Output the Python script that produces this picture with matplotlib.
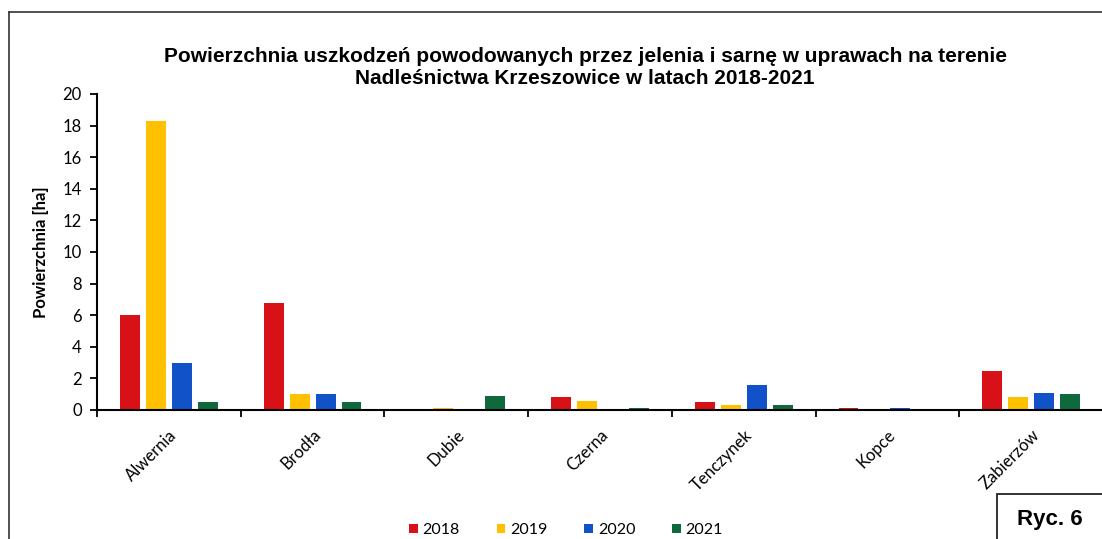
import matplotlib
matplotlib.use("Agg")
import matplotlib.pyplot as plt
import numpy as np
from matplotlib.patches import Rectangle, Patch
from matplotlib.lines import Line2D

categories = ["Alwernia", "Brodła", "Dubie", "Czerna", "Tenczynek", "Kopce", "Zabierzów"]
years = ["2018", "2019", "2020", "2021"]
v2018 = [6.0, 6.8, 0.0, 0.8, 0.5, 0.1, 2.5]
v2019 = [18.3, 1.0, 0.1, 0.6, 0.3, 0.0, 0.8]
v2020 = [3.0, 1.0, 0.0, 0.05, 1.6, 0.1, 1.1]
v2021 = [0.5, 0.5, 0.9, 0.1, 0.3, 0.0, 1.0]
series = [v2018, v2019, v2020, v2021]
colors = ["#d81018", "#ffc000", "#1252c8", "#0e6a3c"]
yticks = list(range(0, 21, 2))

W, H = 1102, 539
fig = plt.figure(figsize=(W / 100, H / 100), dpi=100)
fig.patch.set_facecolor("white")

ax = fig.add_axes([97 / W, (H - 410) / H, 1006 / W, 316 / H])
x = np.arange(len(categories))
step = 26 / 144
width = 20 / 144
for i, (vals, c) in enumerate(zip(series, colors)):
    ax.bar(x + (i - 1.5) * step, vals, width=width, color=c, label=years[i], zorder=2)

ax.set_xlim(-0.5, len(categories) - 0.5)
ax.set_ylim(0, 20)
ax.set_yticks(yticks)
ax.set_yticklabels([str(t) for t in yticks], fontsize=12, family=["Lato", "DejaVu Sans"])
ax.set_xticks(x)
ax.set_xticklabels(categories, rotation=45, ha="right", va="top", rotation_mode="anchor",
                   fontsize=12, family=["Lato", "DejaVu Sans"])
ax.set_xticks(np.arange(len(categories) + 1) - 0.5, minor=True)
ax.tick_params(axis="x", which="major", length=0, pad=12)
ax.tick_params(axis="x", which="minor", length=5, width=1.3, direction="out")
ax.tick_params(axis="y", which="major", length=5, width=1.3, direction="out", pad=6)
for s in ["top", "right"]:
    ax.spines[s].set_visible(False)
for s in ["left", "bottom"]:
    ax.spines[s].set_linewidth(1.5)
ax.set_ylabel("Powierzchnia [ha]", fontsize=12, fontweight="bold", family=["Lato", "DejaVu Sans"], labelpad=10)
ax.set_facecolor("none")

fig.text(585 / W, 1 - 56 / H, "Powierzchnia uszkodzeń powodowanych przez jelenia i sarnę w uprawach na terenie",
         ha="center", va="center", fontsize=15, fontweight="bold",
         family=["Liberation Sans", "DejaVu Sans"])
fig.text(585 / W, 1 - 79 / H, "Nadleśnictwa Krzeszowice w latach 2018-2021",
         ha="center", va="center", fontsize=15, fontweight="bold",
         family=["Liberation Sans", "DejaVu Sans"])

handles = [Patch(facecolor=c, edgecolor="none") for c in colors]
fig.legend(handles, years, loc="center", bbox_to_anchor=(566 / W, 1 - 530 / H), ncol=4,
           frameon=False, handlelength=0.55, handleheight=0.55, handletextpad=0.3,
           columnspacing=2.3, prop={"family": ["Lato", "DejaVu Sans"], "size": 11.5})

# outer frame
fig.add_artist(Line2D([9 / W, 9 / W], [-0.1, 1 - 12 / H], transform=fig.transFigure, color="#333333", lw=1.2))
fig.add_artist(Line2D([9 / W, 1.1], [1 - 12 / H, 1 - 12 / H], transform=fig.transFigure, color="#333333", lw=1.2))
# Ryc. 6 box
fig.add_artist(Rectangle((997 / W, -0.05), 0.2, (H - 494) / H + 0.05, transform=fig.transFigure,
                         facecolor="white", edgecolor="#222222", lw=1.3))
fig.text(1050 / W, 1 - 519 / H, "Ryc. 6", ha="center", va="center", fontsize=16, fontweight="bold",
         family=["Liberation Sans", "DejaVu Sans"])

fig.savefig("out.png", dpi=100, facecolor="white")
